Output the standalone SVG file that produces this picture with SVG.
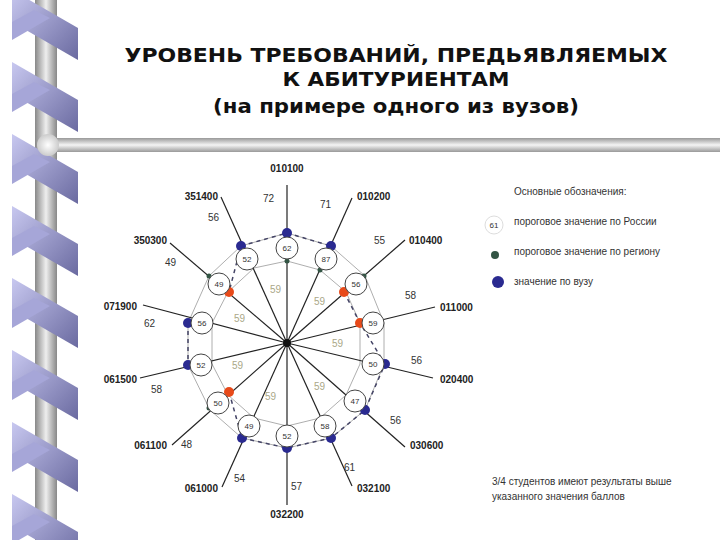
<svg xmlns="http://www.w3.org/2000/svg" width="720" height="540" viewBox="0 0 720 540">
<defs>
<linearGradient id="pole" x1="0" x2="1" y1="0" y2="0"><stop offset="0" stop-color="#888"/><stop offset="0.5" stop-color="#eee"/><stop offset="1" stop-color="#888"/></linearGradient>
<linearGradient id="bar" x1="0" x2="0" y1="0" y2="1"><stop offset="0" stop-color="#999"/><stop offset="0.5" stop-color="#f4f4f4"/><stop offset="1" stop-color="#999"/></linearGradient>
<linearGradient id="rib" x1="0" x2="1" y1="0" y2="1"><stop offset="0" stop-color="#c8c8f0"/><stop offset="1" stop-color="#6a6aa0"/></linearGradient>
<radialGradient id="ball"><stop offset="0" stop-color="#fff"/><stop offset="1" stop-color="#ccc"/></radialGradient>
<g id="ribbon"><path d="M12 0 L78 38 L78 70 L12 32 Z" fill="url(#rib)"/><path d="M12 32 L34 20 L50 28 L12 50 Z" fill="#a6a6d8"/></g>
</defs>
<style>
.t{font-family:"Liberation Sans",Arial,sans-serif}
.lab{font-family:"Liberation Sans",Arial,sans-serif;font-size:10px;font-weight:bold;fill:#222}
.num{font-family:"Liberation Sans",Arial,sans-serif;font-size:10px;fill:#333}
.g59{font-family:"Liberation Sans",Arial,sans-serif;font-size:10px;fill:#aaa888}
.n{fill:#fff;stroke:#444;stroke-width:1}
.nt{font-family:"Liberation Sans",Arial,sans-serif;font-size:8px;fill:#333;text-anchor:middle}
.sp{stroke:#222;stroke-width:1.2}
.blue{fill:#2a2a90}
.red{fill:#e84a1a}
.grn{fill:#335544}
</style>
<rect width="720" height="540" fill="#fff"/>
<g id="decor">
<rect x="35" y="0" width="22" height="540" fill="url(#pole)"/>
<use href="#ribbon" y="-10"/><use href="#ribbon" y="62"/><use href="#ribbon" y="134"/><use href="#ribbon" y="206"/><use href="#ribbon" y="278"/><use href="#ribbon" y="350"/><use href="#ribbon" y="422"/><use href="#ribbon" y="494"/>
<rect x="50" y="138" width="670" height="14" fill="url(#bar)"/>
<circle cx="48" cy="145" r="11" fill="url(#ball)"/>
</g>
<g id="title" font-family="'DejaVu Sans',Verdana,sans-serif" font-weight="bold" font-size="20" text-anchor="middle" fill="#111">
<text x="396" y="62" textLength="543" lengthAdjust="spacingAndGlyphs">УРОВЕНЬ ТРЕБОВАНИЙ, ПРЕДЬЯВЛЯЕМЫХ</text>
<text x="396" y="86" textLength="227" lengthAdjust="spacingAndGlyphs">К АБИТУРИЕНТАМ</text>
<text x="396" y="113" textLength="366" lengthAdjust="spacingAndGlyphs">(на примере одного из вузов)</text>
</g>
<g id="connectors" fill="none">
<g stroke="#999" stroke-width="0.8">
<polygon points="287,233 331,246 365,276 384,323 384,364 365,410 331,438 287,448 242,438 210,410 188,365 188,323 209,276 241,246"/>
<polygon points="287,261 320,270 346,292 360,323 360,364 346,395 320,418 287,426 254,418 228,395 212,364 212,323 228,292 254,268"/>
</g>
<g stroke="#446" stroke-width="1.5" stroke-dasharray="4,4">
<polyline points="241,246 287,233 331,246"/>
<polyline points="344,292 360,323 385,364 365,410 331,438 287,448 242,438 229,392"/>
<polyline points="188,323 188,365"/>
<polyline points="241,246 229,292"/>
</g>
<g class="sp">
<line x1="287" y1="343" x2="287" y2="185"/>
<line x1="287" y1="343" x2="352" y2="198"/>
<line x1="287" y1="343" x2="405" y2="240"/>
<line x1="287" y1="343" x2="435" y2="307"/>
<line x1="287" y1="343" x2="433" y2="378"/>
<line x1="287" y1="343" x2="405" y2="447"/>
<line x1="287" y1="343" x2="352" y2="486"/>
<line x1="287" y1="343" x2="287" y2="505"/>
<line x1="287" y1="343" x2="222" y2="487"/>
<line x1="287" y1="343" x2="172" y2="445"/>
<line x1="287" y1="343" x2="140" y2="378"/>
<line x1="287" y1="343" x2="143" y2="305"/>
<line x1="287" y1="343" x2="170" y2="243"/>
<line x1="287" y1="343" x2="221" y2="197"/>
</g>
<circle cx="287" cy="343" r="4" fill="#111"/>
</g>
<g id="dots">
<circle class="grn" cx="287" cy="261" r="2.5"/><circle class="grn" cx="320" cy="270" r="2.5"/><circle class="grn" cx="364" cy="276" r="2.5"/><circle class="grn" cx="209" cy="276" r="2.5"/><circle class="grn" cx="209" cy="408" r="2.5"/>
<circle class="blue" cx="287" cy="233" r="5"/><circle class="blue" cx="331" cy="246" r="5"/><circle class="blue" cx="241" cy="246" r="5"/><circle class="blue" cx="188" cy="323" r="5"/><circle class="blue" cx="188" cy="365" r="5"/><circle class="blue" cx="242" cy="438" r="5"/><circle class="blue" cx="287" cy="448" r="5"/><circle class="blue" cx="331" cy="438" r="5"/><circle class="blue" cx="365" cy="410" r="5"/><circle class="blue" cx="385" cy="364" r="5"/>
<circle class="red" cx="229" cy="292" r="5"/><circle class="red" cx="344" cy="292" r="5"/><circle class="red" cx="360" cy="323" r="5"/><circle class="red" cx="229" cy="392" r="5"/>
</g>
<g id="nodes">
<g id="n1"><circle class="n" cx="287" cy="248" r="11"/><text class="nt" x="287" y="251">62</text></g>
<g id="n2"><circle class="n" cx="326" cy="259" r="11"/><text class="nt" x="326" y="262">87</text></g>
<g id="n3"><circle class="n" cx="356" cy="284" r="11"/><text class="nt" x="356" y="287">56</text></g>
<g id="n4"><circle class="n" cx="373" cy="323" r="11"/><text class="nt" x="373" y="326">59</text></g>
<g id="n5"><circle class="n" cx="373" cy="364" r="11"/><text class="nt" x="373" y="367">50</text></g>
<g id="n6"><circle class="n" cx="355" cy="401" r="11"/><text class="nt" x="355" y="404">47</text></g>
<g id="n7"><circle class="n" cx="325" cy="426" r="11"/><text class="nt" x="325" y="429">58</text></g>
<g id="n8"><circle class="n" cx="287" cy="436" r="11"/><text class="nt" x="287" y="439">52</text></g>
<g id="n9"><circle class="n" cx="249" cy="426" r="11"/><text class="nt" x="249" y="429">49</text></g>
<g id="n10"><circle class="n" cx="218" cy="403" r="11"/><text class="nt" x="218" y="406">50</text></g>
<g id="n11"><circle class="n" cx="201" cy="365" r="11"/><text class="nt" x="201" y="368">52</text></g>
<g id="n12"><circle class="n" cx="202" cy="323" r="11"/><text class="nt" x="202" y="326">56</text></g>
<g id="n13"><circle class="n" cx="219" cy="284" r="11"/><text class="nt" x="219" y="287">49</text></g>
<g id="n14"><circle class="n" cx="247" cy="259" r="11"/><text class="nt" x="247" y="262">52</text></g>
</g>
<g id="labels">
<text class="lab" x="287" y="172" text-anchor="middle">010100</text>
<text class="lab" x="357" y="200">010200</text>
<text class="lab" x="409" y="244">010400</text>
<text class="lab" x="440" y="311">011000</text>
<text class="lab" x="440" y="383">020400</text>
<text class="lab" x="410" y="449">030600</text>
<text class="lab" x="357" y="492">032100</text>
<text class="lab" x="287" y="518" text-anchor="middle">032200</text>
<text class="lab" x="218" y="492" text-anchor="end">061000</text>
<text class="lab" x="167" y="449" text-anchor="end">061100</text>
<text class="lab" x="137" y="383" text-anchor="end">061500</text>
<text class="lab" x="137" y="310" text-anchor="end">071900</text>
<text class="lab" x="167" y="244" text-anchor="end">350300</text>
<text class="lab" x="218" y="200" text-anchor="end">351400</text>
<text class="num" x="263" y="202">72</text><text class="num" x="320" y="208">71</text><text class="num" x="374" y="244">55</text><text class="num" x="405" y="299">58</text><text class="num" x="411" y="364">56</text><text class="num" x="390" y="424">56</text><text class="num" x="344" y="471">61</text><text class="num" x="291" y="490">57</text><text class="num" x="234" y="482">54</text><text class="num" x="181" y="448">48</text><text class="num" x="151" y="393">58</text><text class="num" x="144" y="327">62</text><text class="num" x="165" y="266">49</text><text class="num" x="208" y="221">56</text>
<text class="g59" x="270" y="293">59</text><text class="g59" x="314" y="305">59</text><text class="g59" x="234" y="322">59</text><text class="g59" x="332" y="347">59</text><text class="g59" x="232" y="369">59</text><text class="g59" x="314" y="390">59</text><text class="g59" x="265" y="400">59</text>
</g>
<g id="legend" class="t" font-size="10" fill="#333">
<text x="514" y="195">Основные обозначения:</text>
<circle cx="494" cy="225" r="9" fill="#fff" stroke="#ddd"/><text x="494" y="228" font-size="8" text-anchor="middle">61</text>
<text x="514" y="225">пороговое значение по России</text>
<circle cx="495" cy="255" r="4" class="grn"/><text x="514" y="255">пороговое значение по региону</text>
<circle cx="498" cy="282" r="6" class="blue"/><text x="514" y="285">значение по вузу</text>
<text x="492" y="485">3/4 студентов имеют результаты выше</text>
<text x="492" y="500">указанного значения баллов</text>
</g>
</svg>
